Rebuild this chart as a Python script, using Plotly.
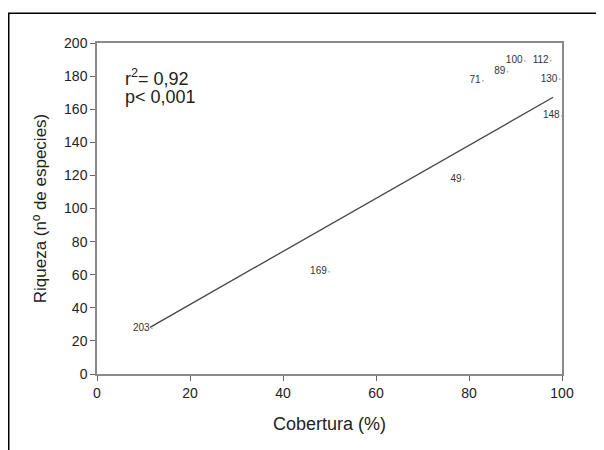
import plotly.graph_objects as go

# Point labels (site IDs) and positions
labels = ["203", "169", "49", "71", "89", "100", "112", "130", "148"]
cobertura = [11.8, 49.9, 78.9, 83.0, 88.3, 92.0, 97.6, 99.5, 99.98]
riqueza = [27.6, 61.8, 117.6, 177.2, 182.7, 189.3, 189.3, 178.1, 155.9]

# Regression line endpoints
line_x = [11.4, 98.1]
line_y = [28.2, 167.2]

x_ticks = [0, 20, 40, 60, 80, 100]
y_ticks = [0, 20, 40, 60, 80, 100, 120, 140, 160, 180, 200]

FONT = "Liberation Sans, Arial, sans-serif"

fig = go.Figure()
fig.add_trace(go.Scatter(
    x=line_x, y=line_y, mode="lines",
    line=dict(color="#444444", width=1.3), hoverinfo="skip", showlegend=False))
fig.add_trace(go.Scatter(
    x=cobertura, y=riqueza, mode="markers+text", text=labels,
    textposition="middle left", cliponaxis=False,
    textfont=dict(family=FONT, size=10, color="#333333"),
    marker=dict(size=2, color="#bbbbbb"), showlegend=False))

axis_common = dict(
    showline=True, linecolor="#8a8a8a", linewidth=1.5, mirror=True,
    ticks="outside", ticklen=5, tickcolor="#666666", showgrid=False, zeroline=False,
    tickfont=dict(family=FONT, size=14, color="#222222"),
)

fig.update_layout(
    width=604, height=450,
    margin=dict(l=89, r=50, t=35, b=84),
    paper_bgcolor="white", plot_bgcolor="white",
    font=dict(family=FONT, color="#222222"),
    xaxis=dict(range=[0, 100], tickvals=x_ticks,
               title=dict(text="Cobertura (%)", font=dict(size=18), standoff=18),
               **axis_common),
    yaxis=dict(range=[0, 200], tickvals=y_ticks,
               title=dict(text="Riqueza (nº de especies)", font=dict(size=17), standoff=13),
               **axis_common),
    annotations=[
        dict(x=5.6, y=179, xref="x", yref="y", text="r<sup>2</sup>= 0,92", showarrow=False,
             xanchor="left", yanchor="middle", font=dict(family=FONT, size=18, color="#222222")),
        dict(x=5.6, y=167.4, xref="x", yref="y", text="p< 0,001", showarrow=False,
             xanchor="left", yanchor="middle", font=dict(family=FONT, size=18, color="#222222")),
    ],
    shapes=[
        dict(type="rect", xref="paper", yref="paper",
             x0=-0.1898, x1=1.0774, y0=-0.3, y1=1.0897,
             line=dict(color="black", width=1.5), fillcolor="rgba(0,0,0,0)", layer="below"),
    ],
)

fig.write_html("out.html")
